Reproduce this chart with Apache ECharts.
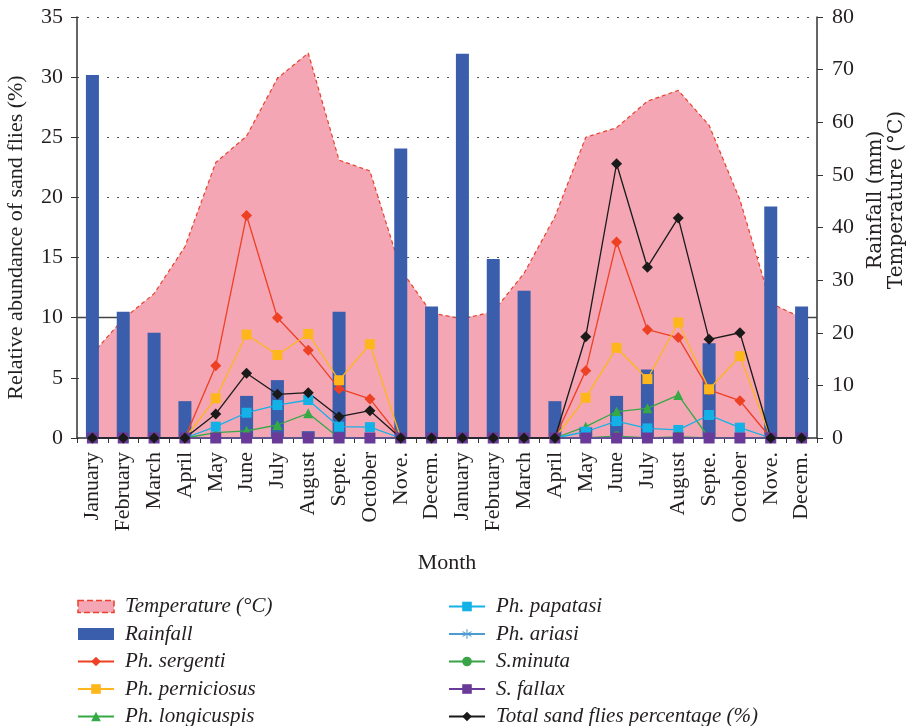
<!DOCTYPE html>
<html>
<head>
<meta charset="utf-8">
<script src="https://cdn.jsdelivr.net/npm/echarts@6/dist/echarts.min.js"></script>
<style>html,body{margin:0;padding:0;background:#fff;}#c{width:908px;height:726px;}</style>
</head>
<body>
<div id="c"></div>
<script>
var months = ['January','February','March','April','May','June','July','August','Septe.','October','Nove.','Decem.',
              'January','February','March','April','May','June','July','August','Septe.','October','Nove.','Decem.'];
var temperature = [7.0, 9.9, 12.0, 15.9, 22.9, 25.1, 29.9, 32.0, 23.1, 22.2, 14.0, 10.4,
                   9.9, 10.5, 13.7, 18.4, 25.0, 25.8, 28.0, 28.9, 26.0, 19.8, 11.2, 10.0];
var rainfall = [69, 24, 20, 7, 0, 8, 11, 1.3, 24, 0, 55, 25,
                73, 34, 28, 7, 2, 8, 13, 0, 18, 0, 44, 25];
var sergenti = [0,0,0,0,6.0,18.5,10.0,7.3,4.1,3.25,0,0, 0,0,0,0,5.6,16.3,9.0,8.35,4.0,3.1,0,0];
var perniciosus = [0,0,0,0,3.3,8.6,6.9,8.65,4.8,7.8,0,0, 0,0,0,0,3.35,7.5,4.9,9.6,4.05,6.8,0,0];
var longicuspis = [0,0,0,0,0.45,0.6,1.08,2.05,0,0,0,0, 0,0,0,0,0.94,2.2,2.47,3.57,0,0,0,0];
var papatasi = [0,0,0,0,0.94,2.1,2.74,3.16,0.94,0.9,0,0, 0,0,0,0,0.52,1.41,0.8,0.67,1.91,0.86,0,0];
var ariasi = [0,0,0,0,0,0,0,0,0,0,0,0, 0,0,0,0,0,0,0,0,0,0,0,0];
var minuta = [0,0,0,0,0,0,0,0,0,0,0,0, 0,0,0,0,0,0.15,0,0.1,0,0,0,0];
var fallax = [0,0,0,0,0,0,0,0,0,0,0,0, 0,0,0,0,0,0,0,0,0,0,0,0];
var total = [0,0,0,0,2.0,5.38,3.63,3.77,1.77,2.27,0,0, 0,0,0,0,8.42,22.8,14.2,18.3,8.2,8.75,0,0];
var leftTicks = [0,5,10,15,20,25,30,35];
var rightTicks = [0,10,20,30,40,50,60,70,80];

var FONT = '"Liberation Serif", "DejaVu Serif", serif';
var TXT = '#231F20';
var FS = 22;
var asterisk = 'path://M-1,-10 L1,-10 L1,10 L-1,10 Z M-9.16,-4.13 L-8.16,-5.87 L9.16,4.13 L8.16,5.87 Z M8.16,-5.87 L9.16,-4.13 L-8.16,5.87 L-9.16,4.13 Z';

function lineSeries(name, data, color, symbol, size) {
  return {
    name: name, type: 'line', yAxisIndex: 0, data: data, z: 4,
    symbol: symbol, symbolSize: size, showAllSymbol: true, clip: false,
    lineStyle: { color: color, width: 1.3 },
    itemStyle: { color: color },
    emphasis: { disabled: true }, animation: false
  };
}

var chart = echarts.init(document.getElementById('c'));
var legendText = { fontFamily: FONT, fontStyle: 'italic', fontSize: 21, color: TXT, padding: [0,0,0,6] };
chart.setOption({
  animation: false,
  backgroundColor: '#fff',
  grid: { left: 77, right: 91, top: 17, bottom: 288, containLabel: false, outerBoundsMode: 'none' },
  legend: [
    { orient: 'vertical', left: 77, top: 596, height: 200, padding: 0, itemWidth: 36, itemHeight: 12, itemGap: 6.5,
      textStyle: legendText, selectedMode: false,
      data: [
        { name: 'Temperature (°C)', icon: 'rect', itemStyle: { color: '#F4A6B4', borderColor: '#E8412B', borderWidth: 1.5, borderType: 'dashed' } },
        { name: 'Rainfall', icon: 'rect', itemStyle: { color: '#3A5EAB' } },
        'Ph. sergenti', 'Ph. perniciosus', 'Ph. longicuspis'
      ] },
    { orient: 'vertical', left: 448, top: 596, height: 200, padding: 0, itemWidth: 36, itemHeight: 12, itemGap: 6.5,
      textStyle: legendText, selectedMode: false,
      data: ['Ph. papatasi', 'Ph. ariasi', 'S.minuta', 'S. fallax', 'Total sand flies percentage (%)'] }
  ],
  xAxis: {
    type: 'category', data: months, boundaryGap: true,
    name: 'Month', nameLocation: 'middle', nameGap: 114,
    nameTextStyle: { fontFamily: FONT, fontSize: FS, color: TXT },
    axisLine: { lineStyle: { color: '#333', width: 1.5 } },
    axisTick: { show: true, length: 5, interval: 0, lineStyle: { color: '#333' } },
    axisLabel: { interval: 0, rotate: 90, margin: 14, fontFamily: FONT, fontSize: FS, color: TXT }
  },
  yAxis: [
    { type: 'value', min: 0, max: 35, interval: 5, position: 'left',
      name: 'Relative abundance of sand flies (%)', nameLocation: 'middle', nameGap: 50, nameRotate: 90,
      nameTextStyle: { fontFamily: FONT, fontSize: FS, color: TXT, padding: [0, 20, 0, 0] },
      axisLine: { show: true, lineStyle: { color: '#333', width: 1.5 } },
      axisTick: { show: true, length: 6, lineStyle: { color: '#333' } },
      axisLabel: { margin: 14, fontFamily: FONT, fontSize: FS, color: TXT,
                   formatter: function (v) { return leftTicks.indexOf(v) >= 0 ? String(v) : ''; } },
      splitLine: { show: true, lineStyle: { color: '#555', width: 1, type: [2, 8] } }
    },
    { type: 'value', min: 0, max: 80, interval: 10, position: 'right',
      name: 'Rainfall (mm)\nTemperature (°C)', nameLocation: 'middle', nameGap: 42, nameRotate: 90,
      nameTextStyle: { fontFamily: '"DejaVu Serif", "Liberation Serif", serif', fontSize: 20, color: TXT, lineHeight: 21, padding: [0, 0, 0, 55] },
      axisLine: { show: true, lineStyle: { color: '#333', width: 1.5 } },
      axisTick: { show: true, length: 6, lineStyle: { color: '#333' } },
      axisLabel: { margin: 15, fontFamily: FONT, fontSize: FS, color: TXT,
                   formatter: function (v) { return rightTicks.indexOf(v) >= 0 ? String(v) : ''; } },
      splitLine: { show: false }
    }
  ],
  series: [
    { name: 'ref10', type: 'line', yAxisIndex: 0, data: [], z: 1, silent: true,
      markLine: { z: 1, silent: true, symbol: 'none', label: { show: false }, animation: false,
                  lineStyle: { color: '#444', width: 1.3, type: 'solid' }, data: [{ yAxis: 10 }] } },
    { name: 'Temperature (°C)', type: 'line', yAxisIndex: 0, data: temperature, z: 2,
      symbol: 'none', smooth: false,
      lineStyle: { color: '#E8412B', width: 1.2, type: [4, 3] },
      areaStyle: { color: '#F4A6B4', opacity: 1 },
      itemStyle: { color: '#F4A6B4' }, emphasis: { disabled: true } },
    { name: 'Rainfall', type: 'bar', yAxisIndex: 1, data: rainfall, z: 3, barWidth: 13,
      itemStyle: { color: '#3A5EAB' }, emphasis: { disabled: true } },
    lineSeries('Ph. sergenti', sergenti, '#EE4023', 'diamond', 11),
    lineSeries('Ph. perniciosus', perniciosus, '#FDB71A', 'rect', 10),
    lineSeries('Ph. longicuspis', longicuspis, '#35A944', 'triangle', 10),
    lineSeries('Ph. papatasi', papatasi, '#14B1E7', 'rect', 10),
    lineSeries('Ph. ariasi', ariasi, '#4E9BD2', asterisk, 10),
    lineSeries('S.minuta', minuta, '#38A347', 'circle', 10),
    lineSeries('S. fallax', fallax, '#6A3A99', 'rect', 11),
    lineSeries('Total sand flies percentage (%)', total, '#1A1A1A', 'diamond', 11)
  ]
});
</script>
</body>
</html>
